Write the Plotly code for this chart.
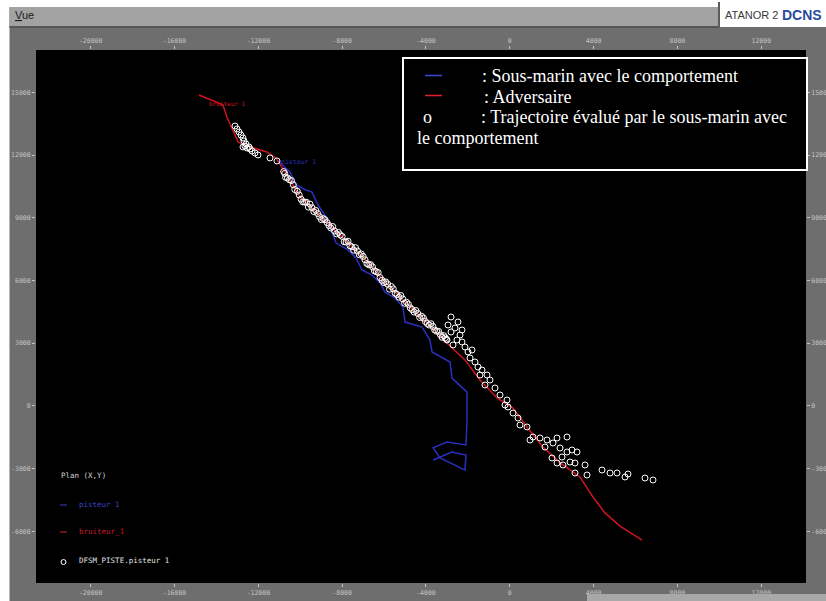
import plotly.graph_objects as go

# ---- track data (metres, plan X/Y) ----
red_x = [-14830, -13690, -13500, -13210, -12970, -12540, -11590, -11160, -10490, -10010,
         -9300, -8580, -7800, -7005, -6050, -5400, -4760, -3600, -3000, -2140,
         -1420, -610, 150, 820, 1580, 2400, 3350, 3970, 4540, 5260, 6310]
red_y = [14870, 14400, 13820, 13200, 12630, 12430, 12150, 11860, 10810, 9990,
         9310, 8610, 7880, 7120, 6020, 5380, 4730, 3640, 3010, 2200,
         1240, 380, -100, -1010, -1970, -2730, -3400, -4360, -5120, -5750, -6420]

blue_x = [-11110, -10490, -10200, -9730, -9440, -9150, -8820, -8580, -8290, -7720,
          -7340, -7050, -6580, -6190, -5960, -5480, -5100, -5000, -4190, -3810,
          -3710, -2850, -2760, -2040, -2040, -2090, -3000, -3660, -3330, -2620,
          -2140, -2090, -2760, -3660]
blue_y = [11760, 11190, 10570, 10330, 10230, 9610, 9130, 8510, 7790, 7460,
          7080, 6500, 6260, 5880, 5450, 5160, 4730, 4010, 3770, 3150,
          2580, 2100, 1330, 660, -670, -1870, -1730, -2010, -2490, -2830,
          -3070, -2350, -2210, -2590]

est_x = [-13113, -13018, -12923, -12827, -12732, -12684, -12589, -12732, -12541, -12398,
         -12302, -12159, -12016, -12636, -12445, -11443, -11109,
         -10790, -10610, -10420, -10260, -10050, -9880, -9700, -9530, -9350, -9170,
         -8990, -8820, -8630, -8450, -8270, -8090, -7900, -7720, -7540, -7360,
         -7180, -7000, -6820, -6640, -6460, -6280, -6100, -5920, -5740, -5560,
         -5380, -5200, -5020, -4840, -4660, -4480, -4300, -4120, -3940, -3760,
         -3580, -3400, -3230, -3080,
         -10700, -10330, -9960, -9610, -9260, -8900, -8540, -8180, -7810, -7450,
         -7090, -6730, -6370, -6010, -5650, -5290, -4930, -4570, -4210, -3850,
         -3490, -3150,
         -10740, -10520, -10140, -9790, -9440, -9080, -8720, -8360, -8000, -7630,
         -7270, -6910, -6550, -6190, -5830, -5470, -5110, -4750, -4390, -4030,
         -3670, -3310, -3030,
         -2806, -2949, -2615, -2472, -2806, -2376, -2997, -2520, -2281, -2138,
         -1995, -1899, -1661, -1517, -1327, -1088, -945, -1183, -706, -468,
         -134, -86, 153, 391, 821, 964, 1107, 1441, 1775, 2062,
         2252, 2730, 2396, 2730, 2968, 3207, 2491, 2014, 2252, 2539,
         2873, 3111, 3589, 3111, 3684, 4400, 4782, 5116, 5497, 5640,
         6452, 6834, -2281, -2710, -1804, -1422, -229, 487, 1680]
est_y = [13390, 13247, 13103, 12960, 12816, 12673, 12529, 12386, 12338, 12290,
         12194, 12099, 12003, 12434, 12386, 11860, 11716,
         11210, 10910, 10780, 10350, 10090, 9760, 9740, 9650, 9290, 9200,
         8910, 8910, 8630, 8580, 8230, 8180, 7850, 7880, 7610, 7570,
         7230, 7150, 6810, 6760, 6460, 6380, 6010, 5930, 5580, 5600,
         5330, 5280, 4910, 4860, 4610, 4560, 4230, 4200, 3940, 3930,
         3630, 3570, 3280, 3260,
         10930, 10580, 9890, 9510, 9350, 8960, 8510, 8300, 7840, 7450,
         7270, 6750, 6420, 5900, 5710, 5200, 4960, 4490, 4290, 3870,
         3570, 3360,
         11120, 10820, 10270, 9750, 9480, 9050, 8770, 8370, 8110, 7660,
         7410, 6990, 6650, 6140, 5830, 5390, 5120, 4690, 4420, 4040,
         3800, 3400, 3190,
         4253, 3870, 3727, 4014, 3535, 3392, 3153, 3153, 3057, 2818,
         2579, 2292, 2100, 1861, 1717, 1478, 1239, 1000, 856, 521,
         282, -53, -340, -579, -1009, -1631, -1488, -1536, -1631, -1775,
         -1536, -1488, -2014, -2205, -2110, -2205, -2445, -2492, -2732, -2827,
         -2684, -2732, -2827, -3210, -3306, -3067, -3210, -3210, -3401, -3258,
         -3449, -3545, 3631, 2913, 2674, 1478, 43, -914, -1966]

# ---- axes ----
x_range = [-22609, 14134]
y_range = [-8472, 17025]
x_ticks = [-20000, -16000, -12000, -8000, -4000, 0, 4000, 8000, 12000]
x_tick_text = ["-20000", "-16000", "-12000", "-8000", "-4000", "0", "4000", "8000", "12000"]
y_ticks = [-6000, -3000, 0, 3000, 6000, 9000, 12000, 15000]
y_tick_text = ["-6000", "-3000", "0", "3000", "6000", "9000", "12000", "15000"]

# ---- texts ----
legend_lines = [": Sous-marin avec le comportement", ": Adversaire",
                ": Trajectoire évalué par le sous-marin avec", "le comportement"]
plot_legend = ["Plan (X,Y)", "pisteur 1", "bruiteur_1", "DFSM_PISTE.pisteur 1"]
track_labels = ["bruiteur 1", "pisteur 1"]

W, H = 826, 601
L, R, T, B = 36, 20, 50, 18
PW, PH = W - L - R, H - T - B


def px(x):
    return (x - L) / PW


def py(y):
    return (H - B - y) / PH


GRAY = "#6e6e6e"
TICK = "#c4c4c4"
RED = "#d0141e"
BLUE = "#2b2fc0"

fig = go.Figure()
fig.add_trace(go.Scatter(x=blue_x, y=blue_y, mode="lines",
                         line=dict(color=BLUE, width=1.5), showlegend=False))
fig.add_trace(go.Scatter(x=red_x, y=red_y, mode="lines",
                         line=dict(color=RED, width=1.5), showlegend=False))
fig.add_trace(go.Scatter(x=est_x, y=est_y, mode="markers",
                         marker=dict(symbol="circle-open", size=6, color="white",
                                     line=dict(width=1, color="white")),
                         showlegend=False))
# companion axes (top / right) for the mirrored tick labels
fig.add_trace(go.Scatter(x=[x_range[0]], y=[y_range[0]], xaxis="x2", yaxis="y2",
                         mode="markers", marker=dict(size=1, opacity=0),
                         showlegend=False, hoverinfo="skip"))

tickfont = dict(family="DejaVu Sans Mono", size=6.5, color=TICK)
axis_common = dict(showgrid=False, zeroline=False, showline=False, ticks="outside",
                   ticklen=3, tickwidth=1, tickcolor=TICK, tickfont=tickfont,
                   automargin=False)

fig.update_layout(
    width=W, height=H,
    margin=dict(l=L, r=R, t=T, b=B, pad=0, autoexpand=False),
    paper_bgcolor=GRAY, plot_bgcolor="black",
    xaxis=dict(range=x_range, tickvals=x_ticks, ticktext=x_tick_text, side="bottom",
               **axis_common),
    yaxis=dict(range=y_range, tickvals=y_ticks, ticktext=y_tick_text, side="left",
               **axis_common),
    xaxis2=dict(range=x_range, tickvals=x_ticks, ticktext=x_tick_text, side="top",
                overlaying="x", anchor="y2", **axis_common),
    yaxis2=dict(range=y_range, tickvals=y_ticks, ticktext=y_tick_text, side="right",
                overlaying="y", anchor="x2", **axis_common),
)

shapes = []
# window chrome
shapes.append(dict(type="rect", xref="paper", yref="paper", x0=px(0), x1=px(9.5),
                   y0=py(H), y1=py(0), fillcolor="white", line=dict(width=0)))
shapes.append(dict(type="rect", xref="paper", yref="paper", x0=px(0), x1=px(W),
                   y0=py(7), y1=py(0), fillcolor="white", line=dict(width=0)))
shapes.append(dict(type="rect", xref="paper", yref="paper", x0=px(9.5), x1=px(718),
                   y0=py(26), y1=py(7), fillcolor="#a2a2a2", line=dict(width=0)))
shapes.append(dict(type="rect", xref="paper", yref="paper", x0=px(9.5), x1=px(718),
                   y0=py(28), y1=py(26), fillcolor="#565656", line=dict(width=0)))
shapes.append(dict(type="rect", xref="paper", yref="paper", x0=px(718), x1=px(W),
                   y0=py(27), y1=py(0), fillcolor="white", line=dict(width=0)))
shapes.append(dict(type="line", xref="paper", yref="paper", x0=px(719), x1=px(719),
                   y0=py(28), y1=py(2), line=dict(color="#5a5a5a", width=2)))
shapes.append(dict(type="rect", xref="paper", yref="paper", x0=px(587), x1=px(W),
                   y0=py(H), y1=py(594), fillcolor="#a8a8a8", line=dict(width=0)))
# explanation box
shapes.append(dict(type="rect", xref="paper", yref="paper", x0=px(403), x1=px(807),
                   y0=py(170), y1=py(58), fillcolor="black",
                   line=dict(color="white", width=2)))
shapes.append(dict(type="line", xref="paper", yref="paper", x0=px(425), x1=px(442),
                   y0=py(75.5), y1=py(75.5), line=dict(color="#3a4ad0", width=1.5)))
shapes.append(dict(type="line", xref="paper", yref="paper", x0=px(425), x1=px(442),
                   y0=py(95.5), y1=py(95.5), line=dict(color="#e0202a", width=1.5)))
# plot key samples (bottom left)
shapes.append(dict(type="line", xref="paper", yref="paper", x0=px(60), x1=px(67),
                   y0=py(505), y1=py(505), line=dict(color="#262a80", width=1.5)))
shapes.append(dict(type="line", xref="paper", yref="paper", x0=px(60), x1=px(67),
                   y0=py(532), y1=py(532), line=dict(color="#8a1a20", width=1.5)))
shapes.append(dict(type="circle", xref="paper", yref="paper", x0=px(61), x1=px(66),
                   y0=py(564.5), y1=py(559.5), line=dict(color="white", width=1)))
fig.update_layout(shapes=shapes)

ann = []


def text(x, y, s, size, color, family, xanchor="left"):
    ann.append(dict(x=px(x), y=py(y), xref="paper", yref="paper", text=s,
                    showarrow=False, xanchor=xanchor, yanchor="middle",
                    font=dict(size=size, color=color, family=family)))


text(13, 15, "<u>V</u>ue", 11, "#1a1a1a", "Liberation Sans")
text(723, 15, "ATANOR 2", 11, "#3a3a3a", "Liberation Sans")
text(780, 15, "<b>DCNS</b>", 14, "#2a4aa0", "Liberation Sans")

serif = "Liberation Serif"
text(480, 76, legend_lines[0], 18, "white", serif)
text(482, 97, legend_lines[1], 18, "white", serif)
text(421, 117, "o", 18, "white", serif)
text(479, 117, legend_lines[2], 18, "white", serif)
text(415, 138, legend_lines[3], 18, "white", serif)

mono = "DejaVu Sans Mono"
text(59, 475, plot_legend[0], 7.5, "#d0d0d0", mono)
text(77, 504, plot_legend[1], 7.5, "#3a44c8", mono)
text(77, 531, plot_legend[2], 7.5, "#c81c28", mono)
text(77, 560, plot_legend[3], 7.5, "#e0e0e0", mono)

# labels at the start of each track
ann.append(dict(x=-13495, y=14443, xref="x", yref="y", text=track_labels[0],
                showarrow=False, font=dict(size=6, color=RED, family=mono)))
ann.append(dict(x=-10107, y=11668, xref="x", yref="y", text=track_labels[1],
                showarrow=False, font=dict(size=6.5, color=BLUE, family=mono)))

fig.update_layout(annotations=ann)
fig.write_html("out.html")
